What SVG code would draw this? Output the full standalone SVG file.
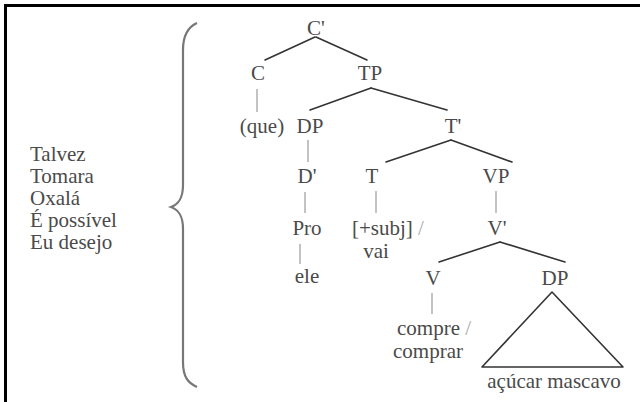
<svg xmlns="http://www.w3.org/2000/svg" width="640" height="402" viewBox="0 0 640 402">
  <style>
    .mid { text-anchor: middle; }
    .edge { stroke: #333; stroke-width: 1.6; fill: none; stroke-linecap: round; }
    .stem { stroke: #aaa; stroke-width: 1.4; fill: none; }
    .slash { fill: #aaa; }
  </style>
  <rect width="640" height="402" fill="#fff"/>

  <!-- frame -->
  <g id="frame" stroke="#000" stroke-width="3">
    <line x1="4" y1="5.5" x2="640" y2="5.5"/>
    <line x1="5.5" y1="4" x2="5.5" y2="402"/>
  </g>

  <!-- curly brace -->
  <path id="brace" d="M197,23 C188,27 183,35 183,50 L183,185 C183,198 179,204 171,207 C179,210 183,216 183,229 L183,362 C183,377 188,383 197,387" fill="none" stroke="#777" stroke-width="2.2"/>

  <!-- connectors -->
  <g id="connectors">
    <line class="edge" x1="315" y1="37" x2="265" y2="60"/>
    <line class="edge" x1="316" y1="37" x2="367" y2="60"/>
    <line class="edge" x1="371" y1="88" x2="310" y2="110"/>
    <line class="edge" x1="371" y1="88" x2="447" y2="110"/>
    <line class="edge" x1="451" y1="140" x2="386" y2="162"/>
    <line class="edge" x1="451" y1="140" x2="512" y2="162"/>
    <line class="edge" x1="500" y1="242" x2="439" y2="262"/>
    <line class="edge" x1="500" y1="242" x2="565" y2="262"/>
    <line class="stem" x1="257" y1="89" x2="257" y2="112"/>
    <line class="stem" x1="308" y1="140" x2="308" y2="162"/>
    <line class="stem" x1="305" y1="192" x2="305" y2="213"/>
    <line class="stem" x1="376" y1="191" x2="376" y2="213"/>
    <line class="stem" x1="496" y1="191" x2="496" y2="213"/>
    <line class="stem" x1="300" y1="244" x2="300" y2="264"/>
    <line class="stem" x1="432" y1="293" x2="432" y2="314"/>
    <polygon id="dp-triangle" points="552,292 482,367 623,367" fill="none" stroke="#333" stroke-width="1.6" stroke-linejoin="round"/>
  </g>

  <!-- all labels share one serif face -->
  <g font-family="Liberation Serif, Times New Roman, serif" font-size="21" fill="#4a4a4a">
    <g id="intro">
      <text x="30" y="161">Talvez</text>
      <text x="30" y="183">Tomara</text>
      <text x="30" y="205">Oxalá</text>
      <text x="30" y="227">É possível</text>
      <text x="30" y="249">Eu desejo</text>
    </g>

    <g id="n-cbar"><text class="mid" x="316" y="35">C'</text></g>
    <g id="n-c"><text class="mid" x="258" y="80">C</text></g>
    <g id="n-tp"><text class="mid" x="370" y="80">TP</text></g>
    <g id="n-que"><text class="mid" x="262" y="133">(que)</text></g>
    <g id="n-dp1"><text class="mid" x="310" y="133">DP</text></g>
    <g id="n-tbar"><text class="mid" x="453" y="133">T'</text></g>
    <g id="n-dbar"><text class="mid" x="307" y="183">D'</text></g>
    <g id="n-t"><text class="mid" x="372" y="183">T</text></g>
    <g id="n-vp"><text class="mid" x="496" y="183">VP</text></g>
    <g id="n-pro"><text class="mid" x="307" y="235">Pro</text></g>
    <g id="n-subj"><text x="352" y="235">[+subj] <tspan class="slash">/</tspan></text></g>
    <g id="n-vai"><text class="mid" x="376" y="258">vai</text></g>
    <g id="n-vbar"><text class="mid" x="497" y="235">V'</text></g>
    <g id="n-ele"><text class="mid" x="307" y="283">ele</text></g>
    <g id="n-v"><text class="mid" x="433" y="285">V</text></g>
    <g id="n-dp2"><text class="mid" x="555" y="285">DP</text></g>
    <g id="n-compre">
      <text x="397" y="335">compre <tspan class="slash">/</tspan></text>
      <text x="393" y="358">comprar</text>
    </g>
    <g id="n-acucar"><text class="mid" x="554" y="388">açúcar mascavo</text></g>
  </g>
</svg>
